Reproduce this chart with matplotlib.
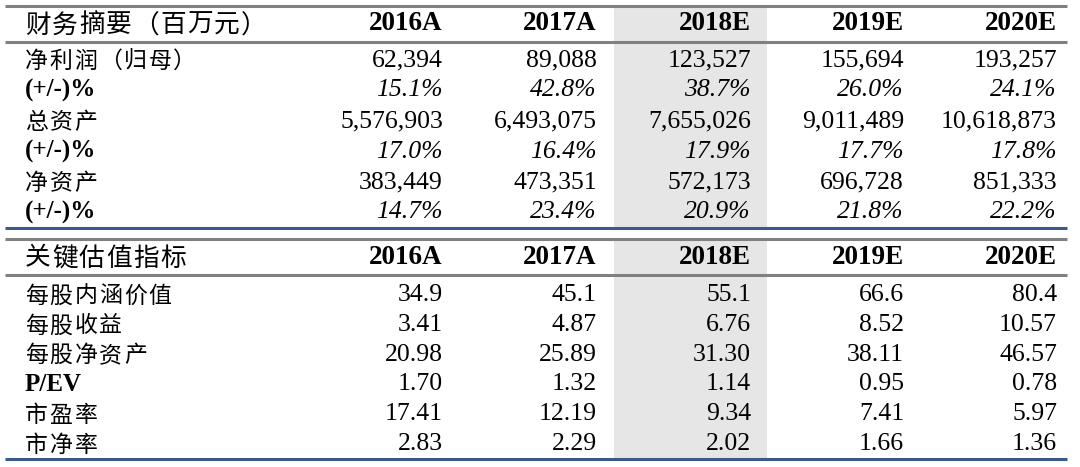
import matplotlib
matplotlib.use("Agg")
import matplotlib.pyplot as plt

years = ["2016A", "2017A", "2018E", "2019E", "2020E"]

title1 = "财务摘要（百万元）"
labels1 = ["净利润（归母）", "(+/-)%", "总资产", "(+/-)%", "净资产", "(+/-)%"]
net_profit = ["62,394", "89,088", "123,527", "155,694", "193,257"]
net_profit_g = ["15.1%", "42.8%", "38.7%", "26.0%", "24.1%"]
total_assets = ["5,576,903", "6,493,075", "7,655,026", "9,011,489", "10,618,873"]
total_assets_g = ["17.0%", "16.4%", "17.9%", "17.7%", "17.8%"]
net_assets = ["383,449", "473,351", "572,173", "696,728", "851,333"]
net_assets_g = ["14.7%", "23.4%", "20.9%", "21.8%", "22.2%"]
rows1 = [net_profit, net_profit_g, total_assets, total_assets_g, net_assets, net_assets_g]
italic1 = [False, True, False, True, False, True]

title2 = "关键估值指标"
labels2 = ["每股内涵价值", "每股收益", "每股净资产", "P/EV", "市盈率", "市净率"]
ev_ps = ["34.9", "45.1", "55.1", "66.6", "80.4"]
eps = ["3.41", "4.87", "6.76", "8.52", "10.57"]
bvps = ["20.98", "25.89", "31.30", "38.11", "46.57"]
p_ev = ["1.70", "1.32", "1.14", "0.95", "0.78"]
pe = ["17.41", "12.19", "9.34", "7.41", "5.97"]
pb = ["2.83", "2.29", "2.02", "1.66", "1.36"]
rows2 = [ev_ps, eps, bvps, p_ev, pe, pb]

FAM = ["Liberation Serif", "Noto Sans CJK SC", "DejaVu Sans"]

W, H = 1080, 467
fig = plt.figure(figsize=(W / 100, H / 100), dpi=100)
ax = fig.add_axes([0, 0, 1, 1])
ax.set_xlim(0, W)
ax.set_ylim(H, 0)
ax.axis("off")

col_right = [443, 597, 751, 904, 1057]
label_x = 25
x_left, x_right = 5, 1067
gray = "#808080"
blue = "#3b5a8a"
shade = "#e6e6e6"

NUM_SIZE = 18.5
HEAD_SIZE = 19.5
CJK_ROW = 16.5
CJK_ROW_PITCH = 24.7
CJK_TITLE = 18.5
CJK_TITLE_PITCH = 27.0
LAT_ROW = 18
CJK_DY = 2

# shading of 2018E column
ax.fill_between([614, 767], 6, 227, color=shade, lw=0, zorder=0)
ax.fill_between([614, 767], 239, 459, color=shade, lw=0, zorder=0)

def hline(y, c):
    ax.plot([x_left, x_right], [y, y], color=c, lw=2.2, solid_capstyle="butt", zorder=2)

hline(6, gray)
hline(42, gray)
hline(228, blue)
hline(239, gray)
hline(275, gray)
hline(459, blue)

def is_cjk(s):
    return any(ord(ch) > 0x2E80 for ch in s)

def draw_cjk(x, y, s, size, pitch):
    for i, ch in enumerate(s):
        ax.text(x + i * pitch, y + CJK_DY, ch, family=FAM, fontsize=size,
                weight="medium", ha="left", va="center")

def draw_label(x, y, s):
    if is_cjk(s):
        draw_cjk(x, y, s, CJK_ROW, CJK_ROW_PITCH)
    else:
        ax.text(x, y, s, family=FAM, fontsize=LAT_ROW, weight="bold", ha="left", va="center")

# table 1
hy1 = 24
draw_cjk(label_x, hy1, title1, CJK_TITLE, CJK_TITLE_PITCH)
for xr, yr in zip(col_right, years):
    ax.text(xr, hy1, yr, family=FAM, fontsize=HEAD_SIZE, weight="bold", ha="right", va="center")
ys1 = [60 + 30.5 * i for i in range(6)]
for y, lab, row, it in zip(ys1, labels1, rows1, italic1):
    draw_label(label_x, y, lab)
    for xr, v in zip(col_right, row):
        ax.text(xr, y, v, family=FAM, fontsize=NUM_SIZE, style="italic" if it else "normal",
                ha="right", va="center")

# table 2
hy2 = 257
draw_cjk(label_x, hy2, title2, CJK_TITLE, CJK_TITLE_PITCH)
for xr, yr in zip(col_right, years):
    ax.text(xr, hy2, yr, family=FAM, fontsize=HEAD_SIZE, weight="bold", ha="right", va="center")
ys2 = [295 + 29.8 * i for i in range(6)]
for y, lab, row in zip(ys2, labels2, rows2):
    draw_label(label_x, y, lab)
    for xr, v in zip(col_right, row):
        ax.text(xr, y, v, family=FAM, fontsize=NUM_SIZE, ha="right", va="center")

fig.savefig("out.png", dpi=100, facecolor="white")
